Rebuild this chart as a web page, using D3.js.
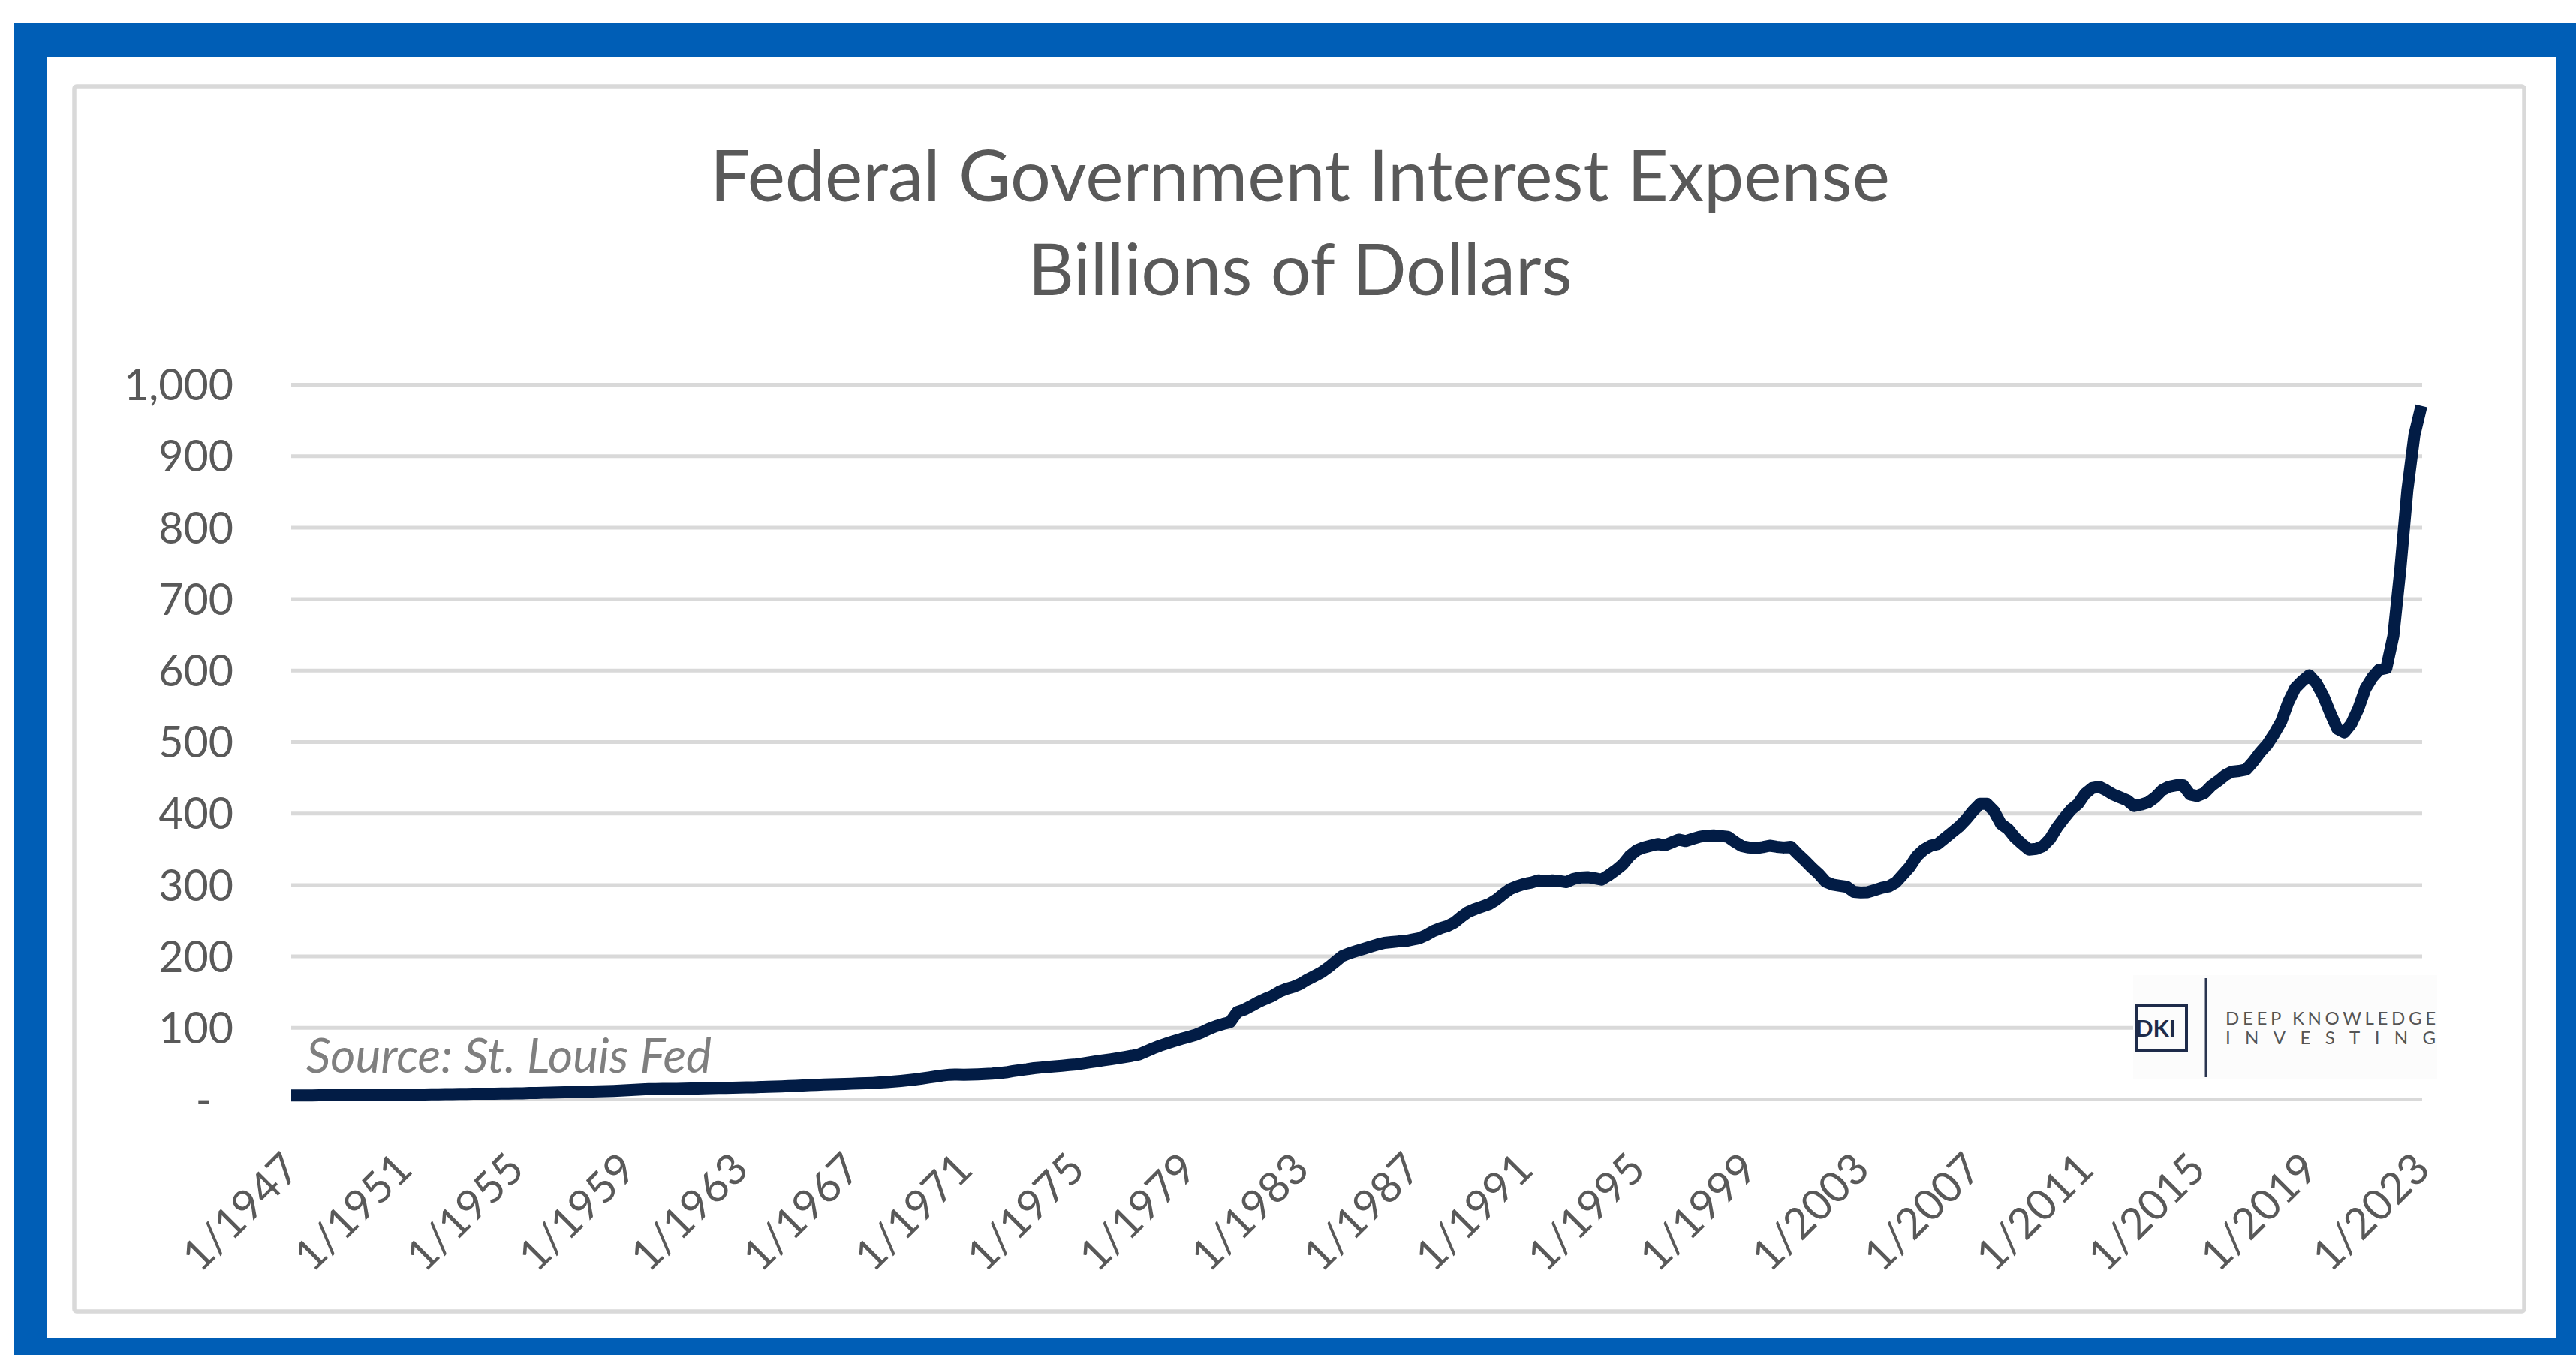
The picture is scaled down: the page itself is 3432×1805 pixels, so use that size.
<!DOCTYPE html>
<html>
<head>
<meta charset="utf-8">
<script src="https://cdn.jsdelivr.net/npm/d3@7"></script>
<style>
  html, body { margin: 0; padding: 0; background: #ffffff; }
  svg { display: block; }
</style>
</head>
<body>
<svg id="chart" width="3432" height="1805"></svg>
<script>
// Federal government interest payments, billions of dollars, quarterly from 1947 Q1.
const firstYear = 1947;
const values1940s = [5.0, 5.0, 5.1, 5.1, 5.2, 5.2, 5.3, 5.3, 5.4, 5.5, 5.5, 5.6];
const values1950s = [5.7, 5.7, 5.8, 5.9, 6.0, 6.1, 6.2, 6.3, 6.5, 6.6, 6.8, 6.9, 7.0, 7.2, 7.3, 7.4,
  7.4, 7.4, 7.5, 7.6, 7.8, 8.0, 8.3, 8.5, 8.8, 9.0, 9.3, 9.5, 9.8, 10.1, 10.4, 10.6,
  10.8, 11.0, 11.4, 11.9, 12.4, 12.9, 13.4, 13.8];
const values1960s = [14.0, 14.1, 14.2, 14.3, 14.4, 14.6, 14.8, 15.0, 15.2, 15.4, 15.6, 15.8,
  16.0, 16.2, 16.4, 16.7, 17.0, 17.3, 17.6, 18.0, 18.4, 18.8, 19.3, 19.8, 20.2, 20.5, 20.8, 21.1,
  21.4, 21.7, 22.0, 22.4, 23.0, 23.7, 24.5, 25.3, 26.2, 27.3, 28.6, 30.0];
const values1970s = [31.5, 33.0, 34.0, 34.2, 34.0, 34.2, 34.5, 34.9, 35.4, 36.3, 37.2, 38.9,
  40.4, 41.6, 43.1, 44.0, 44.9, 45.7, 46.5, 47.5, 48.4, 49.8, 51.3, 52.8, 54.2, 55.6, 57.2, 58.8,
  60.4, 62.3, 66.5, 70.8, 74.6, 77.8, 81.0, 84.0, 86.7, 89.5, 93.5, 98.2];
const values1980s = [102.0, 105.0, 107.5, 121.5, 125, 130, 135.5, 140, 144, 150, 154, 157,
  161, 167, 172, 177, 184, 192, 200, 204, 207, 210, 213, 216, 218.5, 219.5, 220.5, 221,
  223, 225, 229.5, 235, 239, 242, 247, 255, 262, 266, 269.5, 273];
const values1990s = [279, 287, 294, 298, 301, 303, 306, 304.5, 306, 305, 303.5, 308,
  310, 310.5, 309, 307, 313, 320, 328, 340, 348, 352, 354.5, 357, 355, 359, 363, 361,
  364, 367, 368.5, 369, 368, 367, 360, 354, 352, 351, 352.5, 354.5];
const values2000s = [353, 352, 353, 343, 334, 324, 315, 304, 300, 298.5, 297, 290,
  289, 289.5, 292.5, 295.5, 297.5, 303, 314, 325, 340, 349, 354.5, 357, 365, 373, 381, 391,
  403, 413, 413, 403, 385, 378, 366, 357, 349, 350, 354, 364];
const values2010s = [380, 393, 405, 413, 427, 435, 437, 432, 426, 422, 418, 410,
  412, 415, 422, 432, 437, 439, 439, 426, 424, 428, 438, 445, 453, 458, 459, 461,
  472, 485, 496, 511, 528, 555, 575, 585, 593, 582, 564, 540];
const values2020s = [518, 513, 525, 546, 574, 590, 601, 603, 648, 742, 852, 929, 970];

const yTicks = [0, 100, 200, 300, 400, 500, 600, 700, 800, 900, 1000];
const xTickLabels = ["1/1947", "1/1951", "1/1955", "1/1959", "1/1963", "1/1967", "1/1971",
  "1/1975", "1/1979", "1/1983", "1/1987", "1/1991", "1/1995", "1/1999", "1/2003", "1/2007",
  "1/2011", "1/2015", "1/2019", "1/2023"];

const titleLines = ["Federal Government Interest Expense", "Billions of Dollars"];
const sourceNote = "Source: St. Louis Fed";

// ---- assemble the quarterly series ----
const values = [].concat(values1940s, values1950s, values1960s, values1970s,
  values1980s, values1990s, values2000s, values2010s, values2020s);
const quarterKey = i => `${firstYear + Math.floor(i / 4)}-Q${(i % 4) + 1}`;
const categories = values.map((v, i) => quarterKey(i));
const series = values.map((v, i) => ({ cat: categories[i], value: v }));
const labelToCat = lab => `${lab.split("/")[1]}-Q${lab.split("/")[0]}`;

// ---- layout ----
const W = 3432, H = 1805;
const plot = { left: 388, right: 3226, top: 512, bottom: 1464 };
const FONT = "Lato, 'Open Sans', sans-serif";
const textGrey = "#595959";
const gridGrey = "#d9d9d9";
const navy = "#021c45";

const svg = d3.select("#chart");

// blue outer border and white card
svg.append("rect").attr("x", 18).attr("y", 30).attr("width", W - 18).attr("height", H - 30)
  .attr("fill", "#005eb6");
svg.append("rect").attr("x", 62).attr("y", 76).attr("width", 3405 - 62).attr("height", 1783 - 76)
  .attr("fill", "#ffffff");
// light chart-area frame
svg.append("rect").attr("x", 99).attr("y", 115).attr("width", 3363 - 99).attr("height", 1747 - 115)
  .attr("rx", 3).attr("fill", "none").attr("stroke", gridGrey).attr("stroke-width", 5.5);

// ---- scales ----
const x = d3.scalePoint().domain(categories).range([plot.left, plot.right]);
const y = d3.scaleLinear().domain([0, 1000]).range([plot.bottom, plot.top]);

// helper: size a text node so it spans a given width
function fitWidth(sel, target) {
  const w = sel.node().getComputedTextLength();
  const fs = parseFloat(sel.attr("font-size"));
  const nfs = fs * target / w;
  sel.attr("font-size", nfs);
  return nfs;
}

// measure axis font size from the widest tick label
const probe = svg.append("text").attr("font-family", FONT).attr("font-size", 60).text("1,000");
const axisFont = fitWidth(probe, 146);
probe.remove();

// ---- title ----
const t1 = svg.append("text").attr("x", 1732).attr("y", 268).attr("text-anchor", "middle")
  .attr("font-family", FONT).attr("font-size", 100).attr("fill", textGrey).text(titleLines[0]);
const titleFont = fitWidth(t1, 1572);
svg.append("text").attr("x", 1732).attr("y", 393).attr("text-anchor", "middle")
  .attr("font-family", FONT).attr("font-size", titleFont).attr("fill", textGrey).text(titleLines[1]);

// ---- y axis with gridlines ----
const yAxis = d3.axisLeft(y)
  .tickValues(yTicks)
  .tickSize(-(plot.right + 1 - plot.left))
  .tickPadding(plot.left - 311)
  .tickFormat(v => v === 0 ? "-" : d3.format(",")(v));
const gy = svg.append("g").attr("transform", `translate(${plot.left},0)`).call(yAxis);
gy.select(".domain").remove();
gy.selectAll(".tick line").attr("stroke", gridGrey).attr("stroke-width", 5);
gy.selectAll(".tick text")
  .attr("fill", textGrey).attr("font-family", FONT).attr("font-size", axisFont).attr("dy", "0.36em")
  .filter(d => d === 0).attr("x", 282 - plot.left);

// ---- x axis labels, rotated ----
const gx = svg.append("g").attr("transform", `translate(0,1546)`);
gx.selectAll("text").data(xTickLabels).join("text")
  .attr("transform", d => `translate(${x(labelToCat(d))},0) rotate(-45)`)
  .attr("text-anchor", "end").attr("dy", "0.36em")
  .attr("font-family", FONT).attr("font-size", axisFont).attr("fill", textGrey)
  .text(d => d);

// ---- source note ----
const src = svg.append("text").attr("x", 408).attr("y", 1429)
  .attr("font-family", FONT).attr("font-style", "italic").attr("font-size", 60)
  .attr("fill", "#7f7f7f").text(sourceNote);
fitWidth(src, 540);

// ---- logo ----
const logo = svg.append("g");
logo.append("rect").attr("x", 2842).attr("y", 1299).attr("width", 405).attr("height", 138)
  .attr("fill", "#fcfcfc");
logo.append("rect").attr("x", 2846).attr("y", 1339).attr("width", 67).attr("height", 60)
  .attr("fill", "none").attr("stroke", "#1e2b4a").attr("stroke-width", 4);
logo.append("text").attr("x", 2845).attr("y", 1381).attr("font-family", FONT).attr("font-weight", 700)
  .attr("font-size", 31).attr("fill", "#1e2b4a").text("DKI");
logo.append("line").attr("x1", 2939).attr("x2", 2939).attr("y1", 1303).attr("y2", 1435)
  .attr("stroke", "#2a3550").attr("stroke-width", 3);
logo.append("text").attr("x", 2965).attr("y", 1365).attr("font-family", FONT).attr("font-size", 24)
  .attr("fill", "#555555").attr("textLength", 280).attr("lengthAdjust", "spacing").text("DEEP KNOWLEDGE");
logo.append("text").attr("x", 2965).attr("y", 1391).attr("font-family", FONT).attr("font-size", 24)
  .attr("fill", "#555555").attr("textLength", 280).attr("lengthAdjust", "spacing").text("INVESTING");

// ---- the series line ----
const line = d3.line().x(d => x(d.cat)).y(d => y(d.value));
svg.append("path").datum(series)
  .attr("d", line)
  .attr("fill", "none")
  .attr("stroke", navy)
  .attr("stroke-width", 16)
  .attr("stroke-linejoin", "round")
  .attr("stroke-linecap", "butt");
</script>
</body>
</html>
